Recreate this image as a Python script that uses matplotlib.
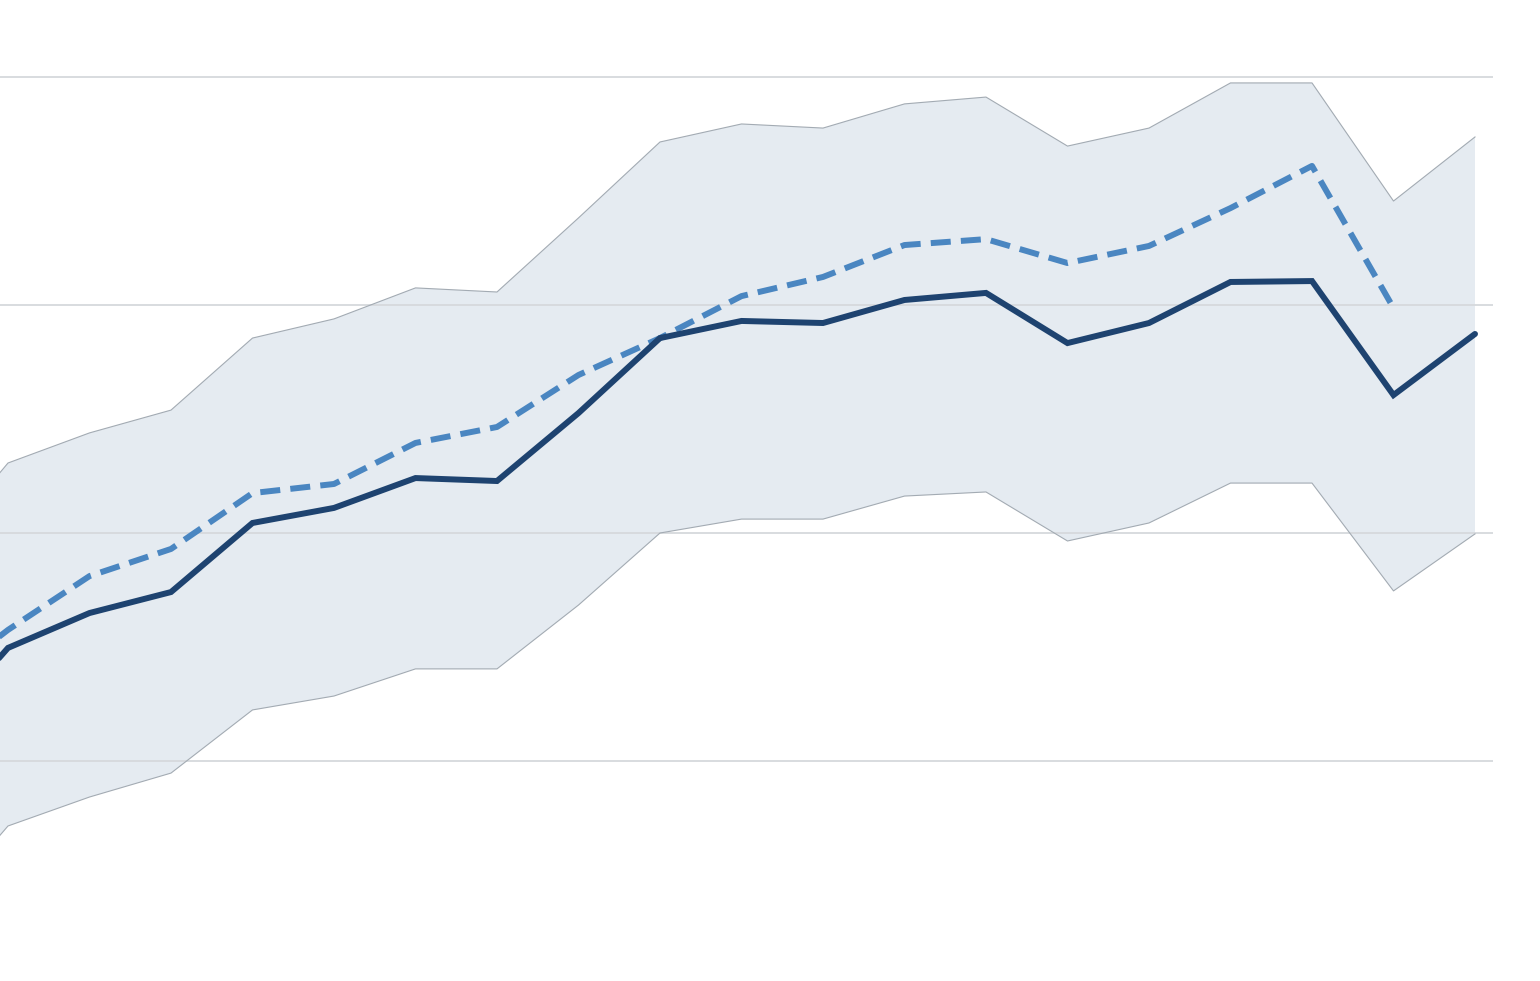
import numpy as np
from matplotlib import pyplot as plt

# periods, first one sits just off the left edge
periods = np.arange(-1, 19)

# central estimate (solid)
central = [0.09, 0.496, 0.649, 0.741, 1.044, 1.110, 1.241, 1.228, 1.526, 1.855,
           1.930, 1.921, 2.022, 2.053, 1.833, 1.921, 2.101, 2.105, 1.605, 1.873]

# second series (dashed), stops one period earlier
dashed = [0.30, 0.575, 0.811, 0.930, 1.175, 1.215, 1.395, 1.465, 1.693, 1.855,
          2.039, 2.123, 2.263, 2.289, 2.184, 2.259, 2.425, 2.610, 1.987]

# uncertainty band
band_upper = [0.88, 1.307, 1.439, 1.539, 1.855, 1.939, 2.075, 2.057, 2.382, 2.715,
              2.794, 2.776, 2.882, 2.912, 2.697, 2.776, 2.974, 2.974, 2.456, 2.737]
band_lower = [-0.70, -0.285, -0.158, -0.053, 0.224, 0.285, 0.404, 0.404, 0.684, 1.0,
              1.061, 1.061, 1.162, 1.180, 0.965, 1.044, 1.219, 1.219, 0.746, 0.996]

grid_levels = [0, 1, 2, 3]

fig = plt.figure(figsize=(15.4, 9.81), dpi=100)
ax = fig.add_axes([0, 0, 1493 / 1540, 1])

ax.fill_between(periods, band_lower, band_upper, color='#e5ebf1', linewidth=0, zorder=1)
ax.plot(periods, band_upper, color='#a3abb3', linewidth=0.8, zorder=2)
ax.plot(periods, band_lower, color='#a3abb3', linewidth=0.8, zorder=2)

for g in grid_levels:
    ax.axhline(g, color='#d6d9dc', linewidth=1.3, zorder=1.5)

ax.plot(periods[:len(dashed)], dashed, color='#4a86c1', linewidth=4.3,
        dashes=(3.35, 1.7), zorder=3)
ax.plot(periods, central, color='#1e4370', linewidth=4.3,
        solid_capstyle='round', solid_joinstyle='miter', zorder=4)

ax.set_xlim(-8 / 81.5, 18 + (1493 - 1475) / 81.5)
ax.set_ylim((761 - 981) / 228, 761 / 228)
ax.axis('off')

plt.savefig('out.png', dpi=100)
